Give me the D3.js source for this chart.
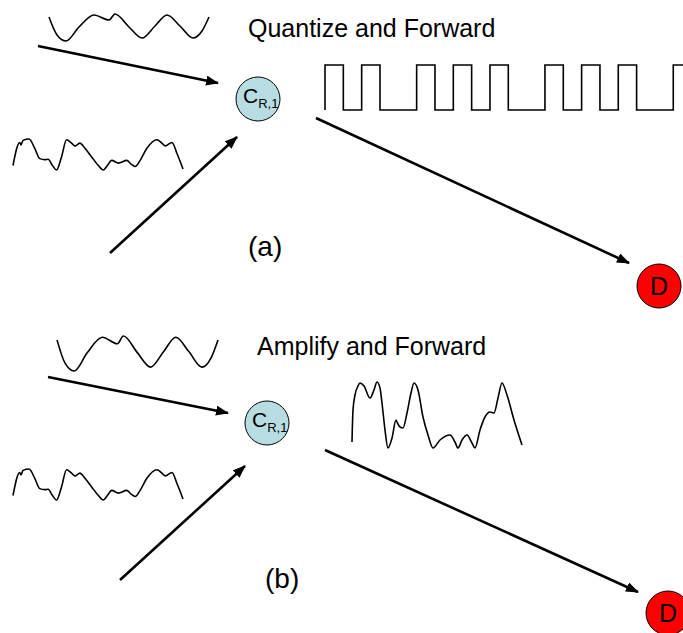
<!DOCTYPE html>
<html><head><meta charset="utf-8">
<script src="https://cdn.jsdelivr.net/npm/d3@7"></script>
<style>body{margin:0;background:#fff}svg{display:block}</style>
</head><body>
<script>
// ---- data ----
const smoothT = [0, 8, 17, 30, 45, 60, 66, 80, 93, 106, 118, 131, 144, 153, 160];
const smoothV = [24, 6, 0, 14, 26, 21, 27, 14, 3, 15, 26, 15, 3, 10, 24];
const noiseT = [0, 20, 24, 30, 48, 65, 80, 95, 105, 118, 130, 145, 160, 175, 185, 200, 215, 235, 255, 270, 282, 295, 315, 340, 352, 365, 380, 400, 430, 445, 455, 475, 490, 508];
const noiseV = [15, 82, 75, 88, 92, 65, 35, 32, 33, 15, 2, 40, 90, 80, 72, 80, 65, 40, 15, 2, 15, 30, 22, 30, 20, 12, 30, 65, 90, 80, 72, 82, 50, 5];
const ampT = [0, 1, 3, 6, 8, 12, 18, 22, 25, 28, 30, 33, 36, 40, 44, 45, 48, 51, 55, 59, 62, 66, 71, 76, 81, 88, 98, 103, 106, 110, 115, 120, 123, 128, 133, 138, 142, 146, 150, 155, 162, 170];
const ampV = [6, 38, 53, 62, 65, 62, 50, 58, 66, 60, 45, 18, 0, 10, 28, 26, 21, 20, 35, 55, 65, 58, 31, 13, 0, 8, 13, 6, 0, 8, 13, 5, 0, 18, 31, 36, 35, 50, 65, 53, 28, 3];
const bits = [1,0,1,0,0,1,0,1,0,1,0,0,1,0,1,0,1,0,0,1];
const titles = ["Quantize and Forward", "Amplify and Forward"];
const panelLabels = ["(a)", "(b)"];
const relayMain = "C", relaySub = "R,1", destLabel = "D";

// ---- layout ----
const W = 683, H = 633;
const panels = [
  { title: [248, 37], label: [248, 256],
    smooth: { x: [49, 209], y: [41, 14] },
    noise:  { x: [13, 183], y: [170, 139] },
    relay: [258, 99], dest: [659, 286],
    arrows: [[[38, 46], [218, 83]], [[110, 253], [237, 137]], [[316, 118], [629, 263]]],
    out: "square", sq: { x0: 325, unit: 18.33, top: 65, bot: 110 } },
  { title: [257, 355], label: [265, 588],
    smooth: { x: [57, 218], y: [371, 336] },
    noise:  { x: [13, 183], y: [500, 469] },
    relay: [267, 423], dest: [668, 613],
    arrows: [[[48, 377], [228, 413]], [[120, 580], [245, 466]], [[325, 450], [638, 592]]],
    out: "amp", amp: { x: [352, 522], y: [448, 382] } }
];

const svg = d3.select("body").append("svg").attr("width", W).attr("height", H);
const defs = svg.append("defs");
defs.append("marker").attr("id", "ah").attr("viewBox", "0 0 13 10")
  .attr("refX", 12).attr("refY", 5).attr("markerWidth", 13).attr("markerHeight", 10)
  .attr("markerUnits", "userSpaceOnUse").attr("orient", "auto")
  .append("path").attr("d", "M0,0 L13,5 L0,10 Z").attr("fill", "#000");

const font = "Arial, 'Liberation Sans', Helvetica, sans-serif";

function wave(T, V, box, curve) {
  const x = d3.scaleLinear().domain(d3.extent(T)).range(box.x);
  const y = d3.scaleLinear().domain(d3.extent(V)).range(box.y);
  const line = d3.line().x(d => x(d[0])).y(d => y(d[1])).curve(curve);
  svg.append("path").attr("d", line(d3.zip(T, V)))
    .attr("fill", "none").attr("stroke", "#000").attr("stroke-width", 1.6)
    .attr("stroke-linejoin", "round");
}

panels.forEach((p, i) => {
  svg.append("text").attr("x", p.title[0]).attr("y", p.title[1])
    .attr("font-family", font).attr("font-size", 25).text(titles[i]);
  svg.append("text").attr("x", p.label[0]).attr("y", p.label[1])
    .attr("font-family", font).attr("font-size", 28).text(panelLabels[i]);

  wave(smoothT, smoothV, p.smooth, d3.curveMonotoneX);
  wave(noiseT, noiseV, p.noise, d3.curveMonotoneX);

  if (p.out === "square") {
    const sx = d3.scaleLinear().domain([0, 1]).range([p.sq.x0, p.sq.x0 + p.sq.unit]);
    const sy = d3.scaleLinear().domain([0, 1]).range([p.sq.bot, p.sq.top]);
    const pts = [[0, 0]];
    bits.forEach((b, k) => { pts.push([k, b]); pts.push([k + 1, b]); });
    const line = d3.line().x(d => sx(d[0])).y(d => sy(d[1]));
    svg.append("path").attr("d", line(pts)).attr("fill", "none")
      .attr("stroke", "#000").attr("stroke-width", 1.6);
  } else {
    wave(ampT, ampV, p.amp, d3.curveMonotoneX);
  }

  p.arrows.forEach(a => {
    svg.append("line").attr("x1", a[0][0]).attr("y1", a[0][1])
      .attr("x2", a[1][0]).attr("y2", a[1][1])
      .attr("stroke", "#000").attr("stroke-width", 2.6)
      .attr("marker-end", "url(#ah)");
  });

  const rg = svg.append("g").attr("transform", `translate(${p.relay[0]},${p.relay[1]})`);
  rg.append("circle").attr("r", 22).attr("fill", "#b7dde2").attr("stroke", "#000").attr("stroke-width", 1);
  const t = rg.append("text").attr("x", -15).attr("y", 4).attr("font-family", font).attr("font-size", 21);
  t.append("tspan").text(relayMain);
  t.append("tspan").attr("font-size", 13).attr("dy", 5).text(relaySub);

  const dg = svg.append("g").attr("transform", `translate(${p.dest[0]},${p.dest[1]})`);
  dg.append("circle").attr("r", 22).attr("fill", "#ff0000").attr("stroke", "#000").attr("stroke-width", 1);
  dg.append("text").attr("text-anchor", "middle").attr("y", 9).attr("font-family", font)
    .attr("font-size", 25).text(destLabel);
});
</script>
</body></html>
